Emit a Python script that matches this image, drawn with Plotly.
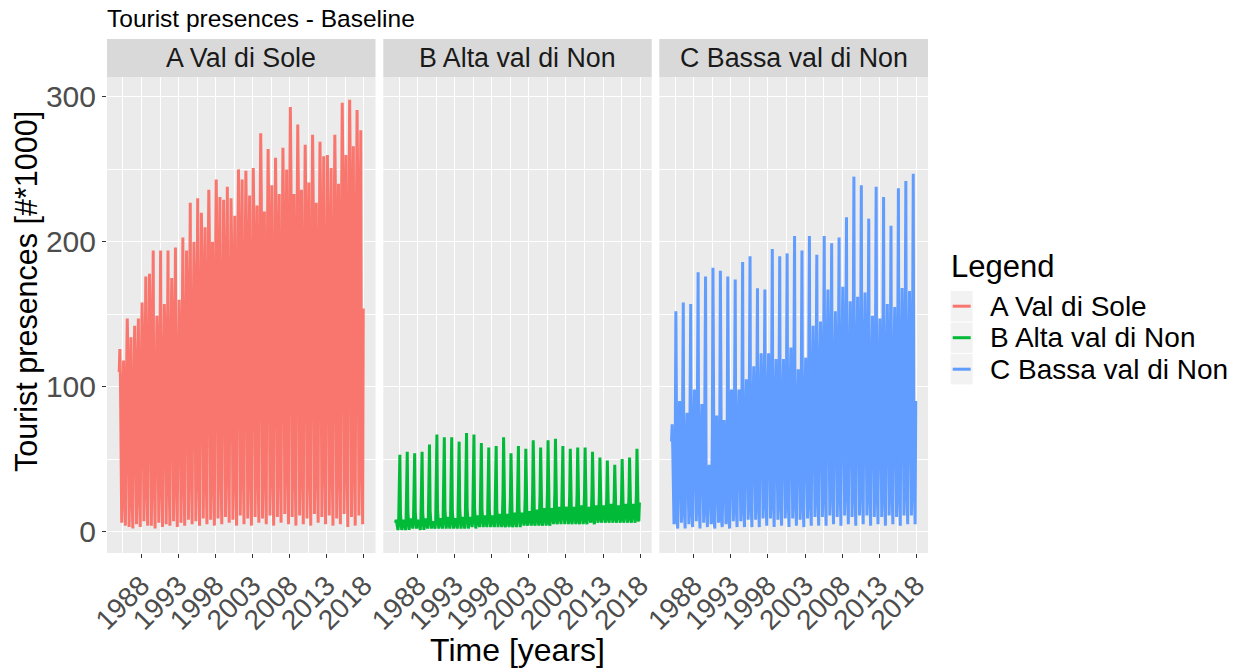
import plotly.graph_objects as go

# ---------------- data (thousands of presences, monthly, 1985-2017) ----------------
years = list(range(1985, 2018))
month_index = list(range(12))

names = ["A Val di Sole", "B Alta val di Non", "C Bassa val di Non"]
colors = ["#F8766D", "#00BA38", "#619CFF"]

# rows = years, columns = Jan..Dec
val_di_sole = [
    [110, 126, 104, 36, 6, 34, 92, 118, 37, 9, 4, 79],
    [118, 147, 122, 42, 3, 41, 104, 134, 40, 7, 2, 76],
    [113, 142, 118, 41, 5, 45, 113, 147, 44, 8, 3, 86],
    [127, 158, 131, 45, 7, 52, 136, 176, 53, 10, 4, 96],
    [142, 178, 150, 50, 4, 58, 150, 194, 58, 8, 2, 70],
    [118, 149, 125, 40, 6, 60, 152, 194, 56, 9, 3, 85],
    [126, 157, 133, 47, 5, 57, 150, 194, 59, 11, 4, 95],
    [140, 175, 146, 52, 7, 60, 153, 196, 58, 9, 3, 88],
    [130, 160, 136, 46, 6, 62, 158, 203, 61, 10, 4, 106],
    [155, 194, 163, 55, 8, 68, 176, 227, 69, 12, 5, 110],
    [161, 200, 168, 58, 7, 70, 180, 230, 68, 11, 4, 121],
    [176, 220, 185, 62, 9, 64, 163, 210, 63, 10, 5, 130],
    [190, 236, 198, 66, 8, 61, 157, 200, 60, 12, 4, 134],
    [195, 243, 204, 70, 9, 70, 180, 231, 69, 11, 5, 126],
    [184, 229, 193, 64, 10, 72, 186, 238, 71, 13, 6, 127],
    [185, 230, 194, 65, 8, 66, 170, 218, 65, 12, 4, 138],
    [200, 250, 210, 71, 11, 73, 190, 243, 73, 14, 5, 137],
    [199, 249, 209, 70, 9, 70, 181, 232, 70, 12, 4, 138],
    [201, 251, 211, 72, 10, 68, 176, 225, 67, 13, 6, 151],
    [220, 275, 231, 77, 9, 66, 172, 221, 66, 11, 5, 145],
    [211, 264, 222, 74, 11, 72, 186, 239, 72, 13, 4, 142],
    [206, 258, 217, 73, 10, 70, 182, 233, 70, 12, 6, 146],
    [212, 265, 223, 74, 12, 75, 195, 250, 75, 14, 5, 161],
    [234, 293, 246, 82, 10, 70, 182, 233, 70, 12, 4, 155],
    [225, 281, 236, 79, 11, 71, 184, 236, 71, 13, 5, 147],
    [214, 267, 224, 75, 9, 72, 188, 241, 72, 12, 4, 151],
    [219, 274, 230, 77, 12, 68, 177, 227, 68, 14, 6, 148],
    [215, 269, 226, 75, 10, 78, 202, 259, 78, 12, 5, 143],
    [208, 260, 218, 73, 11, 75, 196, 251, 75, 13, 4, 151],
    [219, 274, 230, 77, 9, 72, 187, 240, 72, 12, 5, 163],
    [237, 296, 249, 83, 12, 78, 203, 260, 78, 14, 3, 164],
    [238, 298, 250, 83, 10, 80, 207, 266, 80, 13, 4, 160],
    [233, 291, 244, 81, 11, 83, 216, 277, 83, 14, 5, 154],
]

alta_val_di_non = [
    [6, 8, 6, 2, 1, 5, 21, 53, 12, 3, 1, 5],
    [7, 8, 6, 2, 1, 5, 22, 55, 13, 3, 1, 6],
    [7, 9, 6, 2, 2, 6, 22, 54, 13, 3, 2, 5],
    [6, 8, 7, 3, 1, 6, 23, 55, 13, 3, 1, 6],
    [7, 9, 6, 2, 2, 6, 24, 60, 14, 4, 2, 5],
    [5, 7, 5, 2, 2, 7, 27, 67, 15, 4, 2, 6],
    [7, 9, 7, 3, 2, 7, 26, 65, 15, 4, 2, 6],
    [8, 10, 7, 3, 2, 7, 26, 65, 15, 4, 2, 6],
    [7, 9, 7, 3, 2, 7, 25, 62, 15, 4, 2, 7],
    [8, 10, 8, 3, 2, 8, 27, 68, 16, 4, 2, 7],
    [8, 10, 8, 3, 3, 8, 27, 67, 16, 4, 2, 7],
    [9, 11, 8, 3, 3, 8, 25, 61, 15, 5, 3, 8],
    [9, 11, 8, 4, 3, 8, 24, 58, 15, 5, 3, 8],
    [9, 11, 9, 4, 3, 8, 24, 59, 15, 5, 3, 8],
    [10, 12, 9, 4, 3, 9, 26, 65, 16, 5, 3, 9],
    [10, 12, 9, 4, 3, 9, 23, 54, 15, 5, 3, 9],
    [11, 13, 10, 4, 3, 9, 25, 59, 16, 5, 3, 10],
    [11, 13, 10, 4, 4, 10, 24, 57, 16, 6, 4, 10],
    [12, 14, 10, 5, 4, 10, 26, 63, 17, 6, 4, 11],
    [13, 15, 11, 5, 4, 10, 25, 58, 17, 6, 4, 12],
    [14, 16, 12, 5, 4, 11, 27, 63, 18, 6, 4, 12],
    [14, 16, 12, 5, 5, 11, 27, 64, 18, 7, 5, 13],
    [15, 17, 12, 6, 5, 11, 26, 59, 18, 7, 5, 13],
    [14, 17, 13, 6, 5, 12, 25, 57, 17, 7, 5, 13],
    [15, 17, 13, 6, 5, 12, 26, 58, 18, 7, 5, 14],
    [15, 18, 13, 6, 5, 12, 26, 58, 18, 7, 5, 14],
    [15, 17, 13, 6, 6, 12, 25, 55, 18, 7, 5, 14],
    [16, 18, 14, 6, 6, 13, 24, 51, 17, 8, 6, 14],
    [16, 18, 14, 7, 6, 13, 23, 49, 17, 8, 6, 15],
    [16, 19, 14, 7, 6, 13, 22, 46, 17, 8, 6, 15],
    [16, 18, 14, 7, 6, 13, 23, 50, 17, 8, 6, 15],
    [17, 19, 15, 7, 6, 14, 24, 51, 18, 8, 6, 16],
    [17, 19, 15, 7, 6, 14, 25, 57, 18, 8, 7, 20],
]

bassa_val_di_non = [
    [62, 74, 56, 20, 5, 22, 60, 152, 22, 6, 2, 54],
    [72, 90, 68, 24, 6, 25, 72, 158, 24, 7, 2, 49],
    [66, 82, 62, 22, 5, 23, 68, 157, 23, 6, 3, 59],
    [78, 98, 74, 26, 7, 27, 80, 179, 27, 8, 2, 53],
    [70, 88, 66, 24, 6, 24, 72, 176, 24, 7, 3, 30],
    [38, 46, 40, 15, 5, 22, 70, 182, 22, 6, 2, 48],
    [64, 80, 60, 22, 6, 24, 68, 180, 24, 7, 3, 46],
    [62, 77, 58, 21, 5, 23, 66, 176, 23, 7, 2, 59],
    [78, 98, 74, 26, 7, 27, 80, 174, 26, 8, 3, 59],
    [78, 98, 74, 26, 7, 28, 82, 186, 27, 8, 3, 63],
    [84, 105, 79, 28, 8, 30, 88, 190, 28, 9, 3, 68],
    [91, 114, 86, 31, 8, 32, 95, 168, 31, 9, 3, 74],
    [98, 123, 92, 33, 9, 34, 100, 167, 33, 10, 4, 74],
    [98, 123, 92, 33, 9, 35, 102, 195, 33, 10, 3, 71],
    [95, 119, 89, 32, 8, 33, 98, 190, 32, 9, 4, 71],
    [95, 119, 89, 32, 9, 34, 100, 192, 33, 10, 3, 76],
    [102, 127, 95, 34, 9, 36, 106, 204, 34, 10, 4, 67],
    [90, 112, 84, 30, 8, 33, 96, 194, 31, 9, 3, 72],
    [96, 120, 90, 32, 9, 35, 104, 204, 33, 10, 4, 85],
    [114, 142, 107, 38, 10, 39, 116, 191, 38, 11, 4, 87],
    [116, 145, 109, 39, 10, 41, 120, 204, 40, 12, 4, 100],
    [134, 167, 125, 45, 11, 44, 130, 199, 44, 12, 5, 91],
    [122, 152, 114, 41, 10, 42, 126, 203, 42, 11, 4, 101],
    [135, 169, 127, 46, 11, 45, 134, 217, 45, 12, 5, 95],
    [127, 159, 119, 43, 10, 44, 132, 245, 43, 12, 4, 97],
    [130, 162, 122, 44, 11, 45, 135, 239, 44, 12, 5, 99],
    [132, 165, 124, 45, 11, 44, 130, 216, 44, 12, 4, 89],
    [119, 149, 112, 40, 10, 42, 125, 238, 42, 11, 5, 88],
    [118, 147, 110, 40, 10, 42, 124, 231, 41, 11, 4, 94],
    [126, 157, 118, 42, 11, 43, 128, 211, 42, 12, 5, 93],
    [124, 155, 116, 42, 10, 44, 130, 237, 43, 12, 4, 101],
    [134, 168, 126, 45, 11, 46, 136, 242, 45, 12, 5, 100],
    [133, 166, 125, 45, 11, 46, 140, 247, 45, 12, 5, 90],
]

x_ticks = [1988, 1993, 1998, 2003, 2008, 2013, 2018]
y_ticks = [0, 100, 200, 300]

series = [val_di_sole, alta_val_di_non, bassa_val_di_non]

# ---------------- figure ----------------
FONT = "Liberation Sans, Arial, sans-serif"
W, H = 1252, 668
ML, MR, MT, MB = 107, 324, 39, 115
plot_w = W - ML - MR
plot_h = H - MT - MB


def px_x(px):
    return (px - ML) / plot_w


def px_y(py):
    return (H - MB - py) / plot_h


panels_px = [(107, 375.5), (383.3, 651.7), (659.3, 928)]
domains = [[px_x(a), px_x(b)] for a, b in panels_px]
panel_top = px_y(77)

fig = go.Figure()
for i, (name, col, rows) in enumerate(zip(names, colors, series)):
    xs = [y + m / 12 for y in years for m in month_index]
    ys = [v for row in rows for v in row]
    sfx = "" if i == 0 else str(i + 1)
    fig.add_trace(go.Scatter(
        x=xs, y=ys, mode="lines", name=name, showlegend=False,
        line=dict(color=col, width=3.0),
        xaxis="x" + sfx, yaxis="y" + sfx,
    ))

x_range = [1983.35, 2019.57]
y_range = [-14.9, 313.8]

axis_common_x = dict(
    range=x_range, tickvals=x_ticks, ticktext=[str(t) for t in x_ticks],
    tickangle=-45, tickfont=dict(size=28, color="#4D4D4D", family=FONT),
    ticks="outside", ticklen=4, tickwidth=1.1, tickcolor="#333333",
    showgrid=True, gridcolor="white", gridwidth=1.4, zeroline=False, showline=False,
    automargin=False,
    minor=dict(tickvals=[x - 2.5 for x in x_ticks] + [x_ticks[-1] + 2.5],
               showgrid=True, gridcolor="white", gridwidth=0.7, ticks=""),
)
axis_common_y = dict(
    range=y_range, tickvals=y_ticks, domain=[0, panel_top],
    ticks="outside", ticklen=4, tickwidth=1.1, tickcolor="#333333",
    showgrid=True, gridcolor="white", gridwidth=1.4, zeroline=False, showline=False,
    automargin=False,
    minor=dict(tickvals=[50, 150, 250], showgrid=True, gridcolor="white", gridwidth=0.7, ticks=""),
)

layout = dict(
    width=W, height=H,
    margin=dict(l=ML, r=MR, t=MT, b=MB),
    paper_bgcolor="white", plot_bgcolor="#EBEBEB",
    font=dict(family=FONT, color="black"),
    title=dict(text="Tourist presences - Baseline", x=107 / W, xanchor="left",
               y=1 - 18 / H, yanchor="middle", font=dict(size=24.5, color="black")),
    showlegend=False,
)

for i in range(3):
    sfx = "" if i == 0 else str(i + 1)
    xa = dict(axis_common_x, domain=domains[i], anchor="y" + sfx)
    ya = dict(axis_common_y, anchor="x" + sfx)
    if i == 1:
        xa["title"] = dict(text="Time [years]", font=dict(size=32, color="black"), standoff=4)
    if i == 0:
        ya["tickfont"] = dict(size=30, color="#4D4D4D")
    else:
        ya["showticklabels"] = False
        ya["ticks"] = ""
        ya["matches"] = "y"
    layout["xaxis" + sfx] = xa
    layout["yaxis" + sfx] = ya

shapes = []
annotations = []

# y axis title (centred on panels + strips, as in the facet layout)
annotations.append(dict(text="Tourist presences [#*1000]", xref="paper", yref="paper",
                        x=px_x(26), y=px_y(292), xanchor="center", yanchor="middle",
                        textangle=-90, showarrow=False, font=dict(size=30.5, color="black")))

# facet strips
for i, name in enumerate(names):
    d0, d1 = domains[i]
    shapes.append(dict(type="rect", xref="paper", yref="paper", x0=d0, x1=d1,
                       y0=panel_top, y1=1.0, fillcolor="#D9D9D9", line=dict(width=0), layer="below"))
    annotations.append(dict(text=name, xref="paper", yref="paper", x=(d0 + d1) / 2,
                            y=(panel_top + 1) / 2, xanchor="center", yanchor="middle",
                            showarrow=False, font=dict(size=26.8, color="#1A1A1A")))

# legend (ggplot style: title, grey key boxes with a coloured line, labels)
annotations.append(dict(text="Legend", xref="paper", yref="paper", x=px_x(949), y=px_y(266),
                        xanchor="left", yanchor="middle", showarrow=False,
                        font=dict(size=31, color="black")))
key_centers = [306.2, 337.7, 369.2]
for name, col, cy in zip(names, colors, key_centers):
    shapes.append(dict(type="rect", xref="paper", yref="paper", x0=px_x(950.7), x1=px_x(972.7),
                       y0=px_y(cy + 15.2), y1=px_y(cy - 15.2), fillcolor="#F2F2F2",
                       line=dict(width=0), layer="above"))
    shapes.append(dict(type="line", xref="paper", yref="paper", x0=px_x(952.7), x1=px_x(970.7),
                       y0=px_y(cy), y1=px_y(cy), line=dict(color=col, width=3.0), layer="above"))
    annotations.append(dict(text=name, xref="paper", yref="paper", x=px_x(988), y=px_y(cy),
                            xanchor="left", yanchor="middle", showarrow=False,
                            font=dict(size=28, color="black")))

layout["shapes"] = shapes
layout["annotations"] = annotations

fig.update_layout(layout)
fig.write_html("out.html")
